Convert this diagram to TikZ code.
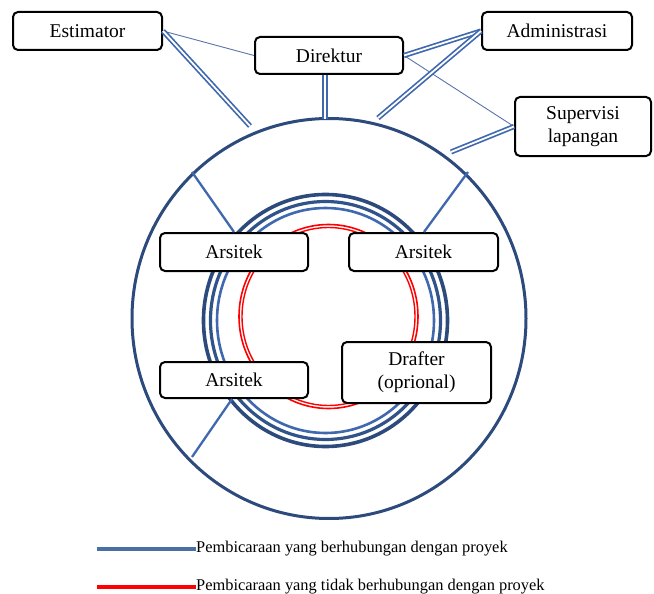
\documentclass[tikz,border=0pt]{standalone}
\usepackage{fontspec}
\setmainfont{Liberation Serif}
\usetikzlibrary{calc}
\definecolor{navy}{HTML}{2C4A7C}
\definecolor{ringblue}{HTML}{30538A}
\definecolor{midblue}{HTML}{3F68AE}
\definecolor{legblue}{HTML}{4A6FA5}
\definecolor{thinblue}{HTML}{5A74A8}
\tikzset{
  box/.style={draw=black, line width=2pt, rounded corners=5pt, fill=white,
    font=\fontsize{19.5}{23}\selectfont, align=center, inner sep=0pt},
  dbl/.style={draw=midblue, line width=1.7pt, double=white, double distance=1.8pt},
  thin/.style={draw=thinblue, line width=0.9pt},
  spoke/.style={draw=midblue, line width=2.3pt},
  legtext/.style={font=\fontsize{16.4}{19}\selectfont, anchor=west, inner sep=0pt}
}
\begin{document}
\begin{tikzpicture}[x=1pt,y=-1pt]
\useasboundingbox (0,0) rectangle (654,594);
% big circle
\draw[navy, line width=3pt] (329,318.5) ellipse [x radius=197, y radius=200];
% rings
\draw[navy, line width=3.6pt] (325.5,320.5) ellipse [x radius=122, y radius=126];
\draw[ringblue, line width=3.2pt] (325.5,320.5) ellipse [x radius=115, y radius=119];
\draw[midblue, line width=2.6pt] (325.5,320.5) ellipse [x radius=108.5, y radius=112.5];
% red circle
\draw[red, line width=1.6pt] (328.5,316.5) ellipse [x radius=89.5, y radius=92];
\draw[red, line width=1.4pt] (328.5,316.5) ellipse [x radius=86.5, y radius=89];
% nodes
\node[box, minimum width=149pt, minimum height=38pt] (est) at (87.5,31) {Estimator};
\node[box, minimum width=148pt, minimum height=37pt] (dir) at (329,55.5) {Direktur};
\node[box, minimum width=150pt, minimum height=38pt] (adm) at (557,31) {Administrasi};
\node[box, minimum width=136pt, minimum height=59pt] (sup) at (583,126.5) {Supervisi\\lapangan};
\node[box, minimum width=148pt, minimum height=38pt] (a1) at (234,252) {Arsitek};
\node[box, minimum width=149pt, minimum height=38pt] (a2) at (423.5,252) {Arsitek};
\node[box, minimum width=148pt, minimum height=36pt] (a3) at (234,380) {Arsitek};
\node[box, minimum width=149pt, minimum height=61pt] (dra) at (416.5,372.5) {Drafter\\(oprional)};
% circle points
\coordinate (pE) at (250,126);
\coordinate (pD) at (325,119.5);
\coordinate (pA) at (378,118);
\coordinate (pS) at (451,152);
\coordinate (sUL) at (192,172);
\coordinate (sUR) at (468,172);
\coordinate (sLL) at (192,457);
% connectors
\draw[thin] (est.east) -- (dir.west);
\draw[thin] (dir.east) -- (sup.west);
\draw[dbl] (est.east) -- (pE);
\draw[dbl] (pD |- dir.south) -- (pD);
\draw[dbl] (dir.east) -- (adm.west);
\draw[dbl] (pA) -- (adm.west);
\draw[dbl] (pS) -- (sup.west);
% spokes
\draw[spoke] (sUL) -- ($(a1.north west)+(75,0)$);
\draw[spoke] (sUR) -- ($(a2.north west)+(76,0)$);
\draw[spoke] (sLL) -- ($(a3.south west)+(73,0)$);
% legend
\node[legtext] (l1) at (196,549) {Pembicaraan yang berhubungan dengan proyek};
\node[legtext] (l2) at (196,587) {Pembicaraan yang tidak berhubungan dengan proyek};
\coordinate (lb) at (97,549);
\coordinate (lr) at (97,587);
\draw[legblue, line width=3.2pt] (lb) -- (l1.west);
\draw[red, line width=3.2pt] (lr) -- (l2.west);
\end{tikzpicture}
\end{document}
